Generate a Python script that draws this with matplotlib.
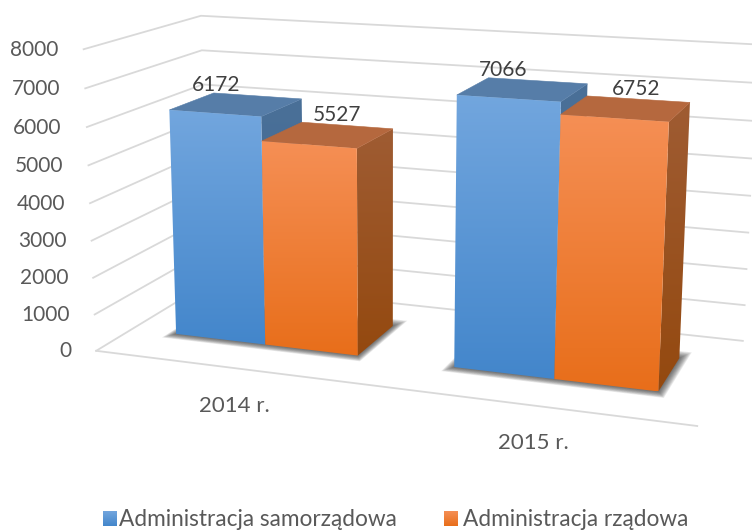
import numpy as np
import matplotlib
matplotlib.use('Agg')
import matplotlib.pyplot as plt
from matplotlib.patches import Polygon

plt.rcParams['font.family'] = ['Lato', 'DejaVu Sans']

categories = ['2014 r.', '2015 r.']
series_names = ['Administracja samorządowa', 'Administracja rządowa']
samorzadowa = [6172, 7066]
rzadowa = [5527, 6752]
ticks = [0, 1000, 2000, 3000, 4000, 5000, 6000, 7000, 8000]
vmax = 8000

bar_w = 0.333
margin = 0.167
depth = (0.3, 0.7)


# camera for the fake 3d: (category pos, value, depth) -> pixel, fitted on a few reference points
def fit_camera(world, pix):
    rows = []
    for (u, v, w), (x, y) in zip(world, pix):
        rows.append([u, v, w, 1, 0, 0, 0, 0, -x*u, -x*v, -x*w, -x])
        rows.append([0, 0, 0, 0, u, v, w, 1, -y*u, -y*v, -y*w, -y])
    return np.linalg.svd(np.array(rows, dtype=float))[2][-1].reshape(3, 4)


u1, u2, u3 = margin, margin + bar_w, margin + 2*bar_w
wf, wb = depth
world = [(0, 0, 0), (2, 0, 0), (0, 0, 1), (0, 1, 0), (0, 1, 1), (2, 0, 1), (2, 1, 1),
         (u1, 6172/vmax, wf), (u2, 6172/vmax, wf), (u1, 6172/vmax, wb), (u2, 6172/vmax, wb),
         (u1, 0, wf), (u2, 0, wf),
         (u2, 5527/vmax, wf), (u3, 5527/vmax, wf), (u3, 5527/vmax, wb), (u3, 0, wf), (u3, 0, wb),
         (1+u1, 7066/vmax, wf), (1+u2, 7066/vmax, wf), (1+u1, 7066/vmax, wb), (1+u2, 7066/vmax, wb),
         (1+u1, 0, wf), (1+u2, 0, wf),
         (1+u2, 6752/vmax, wf), (1+u3, 6752/vmax, wf), (1+u3, 6752/vmax, wb), (1+u3, 0, wf), (1+u3, 0, wb)]
pix = [(98, 350), (697, 429), (203, 288), (81, 49), (203, 15), (743, 341), (757, 44),
       (169, 110), (260, 117), (217, 93), (302, 99),
       (177, 333), (266, 343),
       (262, 141), (357, 148), (393, 129), (358, 355), (394, 322),
       (456, 95), (560, 102), (488, 78), (587, 84),
       (454, 368), (554, 380),
       (560, 115), (670, 122), (691, 103), (658, 392), (680, 355)]
cam = fit_camera(world, pix)


def proj(u, value, w):
    p = cam @ np.array([u, value/vmax, w, 1.0])
    return p[0]/p[2], p[1]/p[2]


def gradient_face(ax, pts, top, bottom, z):
    pts = np.array(pts)
    x0, x1 = pts[:, 0].min(), pts[:, 0].max()
    y0, y1 = pts[:, 1].min(), pts[:, 1].max()
    t = np.linspace(0, 1, 128)[:, None]
    img = (1-t)*np.array(matplotlib.colors.to_rgb(top)) + t*np.array(matplotlib.colors.to_rgb(bottom))
    im = ax.imshow(img[:, None, :], extent=(x0, x1, y1, y0), aspect='auto', zorder=z, interpolation='bilinear')
    im.set_clip_path(Polygon(pts, transform=ax.transData))


fig = plt.figure(figsize=(7.52, 5.30), dpi=100)
ax = fig.add_axes([0, 0, 1, 1])

grid_c = '#D9D9D9'
for t in ticks:
    a, b, c = proj(0, t, 0), proj(0, t, 1), proj(2, t, 1)
    ax.plot([a[0], b[0], c[0]], [a[1], b[1], c[1]], color=grid_c, lw=1.3, zorder=1, solid_joinstyle='miter')
    ax.text(a[0]-25, a[1]+0.5, str(t), ha='right', va='center', fontsize=15, color='#595959')
a, b = proj(0, 0, 0), proj(2, 0, 0)
ax.plot([a[0], b[0]], [a[1], b[1]], color=grid_c, lw=1.3, zorder=1)

styles = [
    dict(top='#72A6DE', bottom='#4386CB', cap='#567DA8', side_top='#4A7098', side_bottom='#3F6690'),
    dict(top='#F58F55', bottom='#E86E1A', cap='#B5683E', side_top='#9F5C33', side_bottom='#94490F'),
]
label_dx = [-20, 9]

z = 3
for i, cat in enumerate(categories):
    # soft shadow on the floor
    x0, x1 = i + u1, i + u3
    for k in range(10):
        e = 0.002 + k*0.0028
        ew = e*3.2
        fp = [proj(x0-e, 0, wf-ew*0.7), proj(x1+e, 0, wf-ew*0.7), proj(x1+e, 0, wb+ew), proj(x0-e, 0, wb+ew)]
        ax.add_patch(Polygon(fp, fc='#303030', ec='none', alpha=0.1, zorder=2))

    for s, vals in enumerate([samorzadowa, rzadowa]):
        val = vals[i]
        l = i + margin + s*bar_w
        r = l + bar_w
        st = styles[s]
        side = [proj(r, val, wf), proj(r, val, wb), proj(r, 0, wb), proj(r, 0, wf)]
        gradient_face(ax, side, st['side_top'], st['side_bottom'], z)
        cap = [proj(l, val, wf), proj(r, val, wf), proj(r, val, wb), proj(l, val, wb)]
        ax.add_patch(Polygon(cap, fc=st['cap'], ec=st['cap'], lw=0.4, zorder=z+1))
        front = [proj(l, val, wf), proj(r, val, wf), proj(r, 0, wf), proj(l, 0, wf)]
        gradient_face(ax, front, st['top'], st['bottom'], z+2)
        cx = np.mean([p[0] for p in cap])
        cy = np.mean([p[1] for p in cap])
        ax.text(cx + label_dx[s], cy - 20, str(val), ha='center', va='center', fontsize=15, color='#404040', zorder=20)
        z += 3

    fx, fy = proj(i + 0.5, 0, 0)
    ax.text(fx + 1, fy + 38, cat, ha='center', va='center', fontsize=16, color='#595959')

# legend
leg_x = [103, 444]
leg_gap = [16, 19]
for name, x, g, st in zip(series_names, leg_x, leg_gap, styles):
    gradient_face(ax, [(x, 511), (x+14, 511), (x+14, 526), (x, 526)], st['top'], st['bottom'], 30)
    ax.text(x+g, 520, name, ha='left', va='center', fontsize=16.3, color='#595959')

ax.set_xlim(0, 752)
ax.set_ylim(530, 0)
ax.axis('off')
fig.savefig('out.png', dpi=100)
